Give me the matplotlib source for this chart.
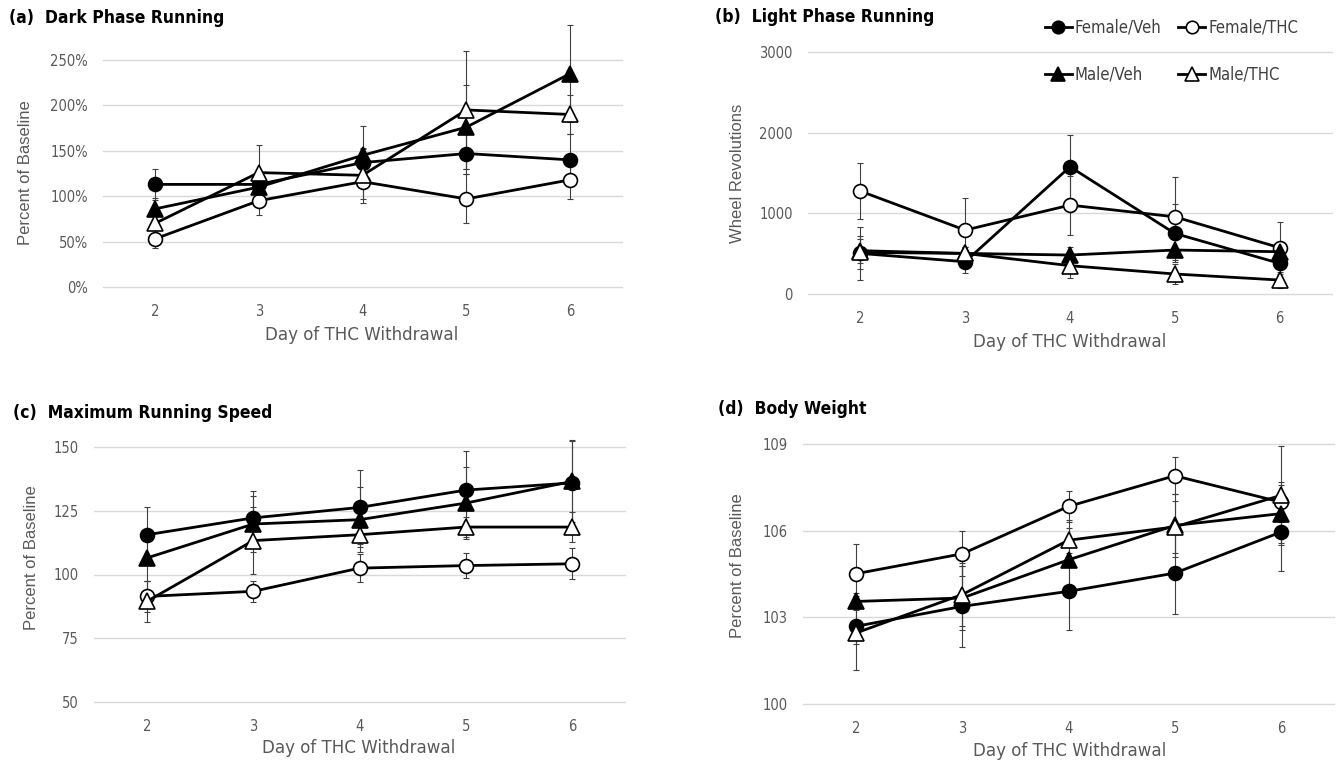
import numpy as np
import matplotlib
matplotlib.use("Agg")
import matplotlib.pyplot as plt
from matplotlib.lines import Line2D
from matplotlib.ticker import FuncFormatter
from matplotlib import font_manager

# ---- data ----
days = [2, 3, 4, 5, 6]
groups = ["Female/Veh", "Female/THC", "Male/Veh", "Male/THC"]

dark_mean = {
    "Female/Veh": [113, 113, 137, 147, 140],
    "Female/THC": [53, 95, 116, 97, 118],
    "Male/Veh": [86, 110, 145, 176, 235],
    "Male/THC": [70, 126, 123, 195, 190],
}
dark_err = {
    "Female/Veh": [17, 10, 15, 22, 28],
    "Female/THC": [10, 16, 19, 27, 21],
    "Male/Veh": [12, 12, 32, 46, 53],
    "Male/THC": [12, 30, 30, 65, 22],
}

light_mean = {
    "Female/Veh": [503, 400, 1577, 751, 380],
    "Female/THC": [1275, 792, 1102, 957, 574],
    "Male/Veh": [537, 503, 483, 545, 524],
    "Male/THC": [516, 503, 351, 248, 173],
}
light_err = {
    "Female/Veh": [330, 140, 390, 360, 250],
    "Female/THC": [350, 400, 365, 496, 322],
    "Male/Veh": [150, 80, 100, 120, 80],
    "Male/THC": [200, 80, 150, 120, 100],
}

speed_mean = {
    "Female/Veh": [115.6, 122.2, 126.3, 133.1, 135.9],
    "Female/THC": [91.4, 93.4, 102.5, 103.5, 104.2],
    "Male/Veh": [106.5, 119.8, 121.5, 128.0, 136.5],
    "Male/THC": [89.5, 113.3, 115.6, 118.6, 118.6],
}
speed_err = {
    "Female/Veh": [11, 10.7, 14.5, 15.5, 17],
    "Female/THC": [6, 4, 5.6, 5, 6],
    "Male/Veh": [9, 11, 12.7, 14, 16],
    "Male/THC": [8, 13, 5, 4, 6],
}

weight_mean = {
    "Female/Veh": [102.69, 103.38, 103.90, 104.53, 105.95],
    "Female/THC": [104.51, 105.20, 106.84, 107.90, 106.99],
    "Male/Veh": [103.55, 103.67, 104.99, 106.18, 106.59],
    "Male/THC": [102.46, 103.79, 105.67, 106.13, 107.22],
}
weight_err = {
    "Female/Veh": [0.6, 1.4, 1.33, 1.4, 1.33],
    "Female/THC": [1.04, 0.78, 0.55, 0.64, 0.7],
    "Male/Veh": [0.3, 1.1, 1.1, 1.1, 1.0],
    "Male/THC": [1.27, 1.1, 0.7, 0.9, 1.7],
}

# marker style per group
styles = {
    "Female/Veh": ("o", "black"),
    "Female/THC": ("o", "white"),
    "Male/Veh": ("^", "black"),
    "Male/THC": ("^", "white"),
}

# narrow face if one is installed, else squeeze DejaVu
installed = {f.name for f in font_manager.fontManager.ttflist}
if "Liberation Sans Narrow" in installed:
    NARROW = dict(family="Liberation Sans Narrow")
else:
    NARROW = dict(family="DejaVu Sans", stretch="condensed")
REG = dict(family="Liberation Sans")
GRAY = "#595959"

W, H = 1336, 762
fig = plt.figure(figsize=(W / 100, H / 100), dpi=100)


def px_axes(x0, x1, y0, y1):
    return fig.add_axes([x0 / W, 1 - y1 / H, (x1 - x0) / W, (y1 - y0) / H])


def draw_panel(ax, means, errs, yticks, fmt=None):
    for g in groups:
        m, fc = styles[g]
        ms = 10 if m == "o" else 11
        ax.errorbar(days, means[g], yerr=errs[g], fmt="none", ecolor="#404040",
                    elinewidth=0.8, capsize=2, capthick=0.8, clip_on=False, zorder=2)
        ax.plot(days, means[g], color="black", lw=2, marker=m, ms=ms,
                mfc=fc, mec="black", mew=1.2, clip_on=False, zorder=3)
    ax.set_xlim(1.5, 6.5)
    ax.set_ylim(yticks[0], yticks[-1])
    ax.set_yticks(yticks)
    ax.set_xticks(days)
    if fmt:
        ax.yaxis.set_major_formatter(FuncFormatter(fmt))
    ax.grid(axis="y", color="#d9d9d9", lw=1)
    for gl in ax.get_ygridlines():
        gl.set_clip_on(False)
    ax.set_axisbelow(True)
    for s in ax.spines.values():
        s.set_visible(False)
    ax.tick_params(length=0, colors=GRAY, labelsize=10.5)
    ax.tick_params(axis="y", pad=11)
    ax.tick_params(axis="x", pad=12)
    for lab in ax.get_xticklabels() + ax.get_yticklabels():
        lab.set(**NARROW)


ax_a = px_axes(103, 622, 60, 287)
draw_panel(ax_a, dark_mean, dark_err, [0, 50, 100, 150, 200, 250],
           fmt=lambda v, p: "%d%%" % v)

ax_b = px_axes(808, 1332, 52, 294)
draw_panel(ax_b, light_mean, light_err, [0, 1000, 2000, 3000])

ax_c = px_axes(94, 625, 447, 702)
draw_panel(ax_c, speed_mean, speed_err, [50, 75, 100, 125, 150])

ax_d = px_axes(803, 1334, 444, 704)
draw_panel(ax_d, weight_mean, weight_err, [100, 103, 106, 109])

# titles
for x, y, t in [(9, 18, "(a)  Dark Phase Running"), (715, 17, "(b)  Light Phase Running"),
                (13, 413, "(c)  Maximum Running Speed"), (718, 409, "(d)  Body Weight")]:
    fig.text(x / W, 1 - y / H, t, fontsize=12.5, fontweight="bold",
             ha="left", va="center", **NARROW)

# axis labels
for x, y, t in [(26, 173, "Percent of Baseline"), (738, 173, "Wheel Revolutions"),
                (32, 558, "Percent of Baseline"), (738, 566, "Percent of Baseline")]:
    fig.text(x / W, 1 - y / H, t, fontsize=12, color=GRAY,
             rotation=90, ha="center", va="center", **REG)
for x, y in [(362, 335), (1070, 342), (359, 748), (1070, 751)]:
    fig.text(x / W, 1 - y / H, "Day of THC Withdrawal", fontsize=13.3,
             color=GRAY, ha="center", va="center", **NARROW)

# legend, filled column-wise so rows read Female then Male
order = ["Female/Veh", "Male/Veh", "Female/THC", "Male/THC"]
handles = []
for g in order:
    m, fc = styles[g]
    handles.append(Line2D([], [], color="black", lw=2, marker=m, ms=9 if m == "o" else 10,
                          mfc=fc, mec="black", mew=1.2))
fig.legend(handles, order, loc="upper left", bbox_to_anchor=(1045 / W, 1 - 19 / H),
           ncol=2, frameon=False, borderaxespad=0, borderpad=0, handlelength=1.6,
           handletextpad=0.2, columnspacing=1.0, labelspacing=1.7,
           prop=dict(size=12, **NARROW), labelcolor="#404040")

fig.savefig("out.png", dpi=100)
